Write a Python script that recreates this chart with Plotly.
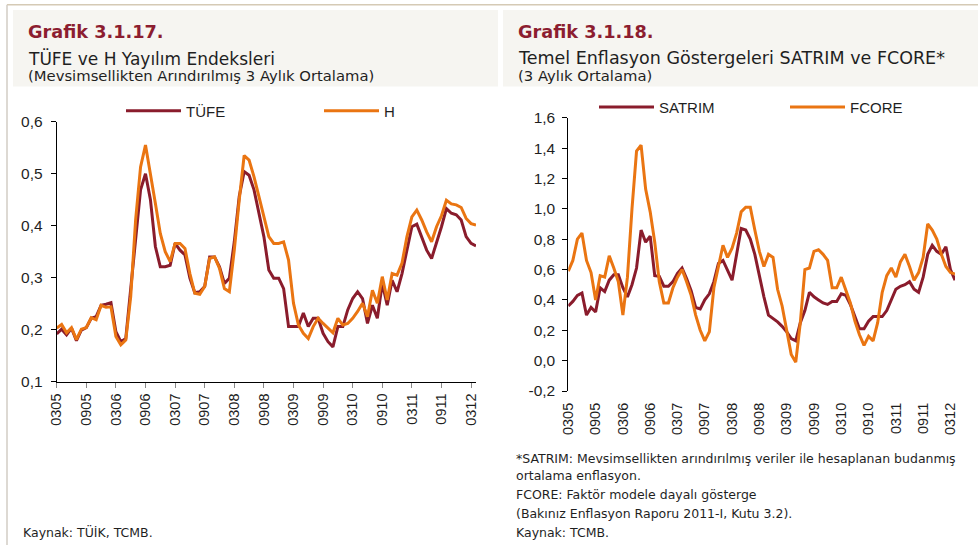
import plotly.graph_objects as go
import pandas as pd

# ---------------- data ----------------
months = pd.date_range("2005-03-01", "2012-04-01", freq="MS").strftime("%m%y").tolist()
x_tick_labels = months[::6]

tufe = [0.192, 0.201, 0.190, 0.203, 0.179, 0.199, 0.204, 0.222, 0.225, 0.247,
        0.249, 0.252, 0.196, 0.177, 0.183, 0.276, 0.379, 0.469, 0.500, 0.450,
        0.360, 0.321, 0.321, 0.324, 0.366, 0.353, 0.344, 0.299, 0.271, 0.273,
        0.283, 0.340, 0.340, 0.321, 0.289, 0.299, 0.369, 0.456, 0.504, 0.497,
        0.469, 0.427, 0.379, 0.315, 0.299, 0.299, 0.279, 0.206, 0.206, 0.206,
        0.232, 0.206, 0.222, 0.222, 0.193, 0.177, 0.167, 0.206, 0.206, 0.238,
        0.260, 0.273, 0.260, 0.212, 0.247, 0.222, 0.289, 0.247, 0.295, 0.273,
        0.308, 0.353, 0.398, 0.403, 0.379, 0.353, 0.337, 0.366, 0.398, 0.433,
        0.424, 0.421, 0.411, 0.379, 0.366, 0.361]

h_index = [0.203, 0.210, 0.194, 0.204, 0.181, 0.201, 0.204, 0.223, 0.219, 0.247,
           0.243, 0.244, 0.187, 0.171, 0.180, 0.263, 0.411, 0.513, 0.555, 0.495,
           0.443, 0.385, 0.350, 0.331, 0.366, 0.366, 0.356, 0.308, 0.270, 0.268,
           0.283, 0.337, 0.340, 0.318, 0.279, 0.273, 0.353, 0.449, 0.535, 0.526,
           0.494, 0.456, 0.417, 0.379, 0.366, 0.366, 0.369, 0.334, 0.251, 0.209,
           0.193, 0.183, 0.206, 0.222, 0.212, 0.203, 0.194, 0.222, 0.209, 0.212,
           0.222, 0.235, 0.251, 0.225, 0.276, 0.251, 0.302, 0.257, 0.308, 0.305,
           0.328, 0.379, 0.417, 0.430, 0.411, 0.388, 0.369, 0.398, 0.419, 0.449,
           0.442, 0.440, 0.435, 0.414, 0.404, 0.401]

satrim = [0.36, 0.39, 0.43, 0.445, 0.30, 0.35, 0.32, 0.48, 0.455, 0.53,
          0.565, 0.565, 0.48, 0.42, 0.50, 0.61, 0.86, 0.78, 0.82, 0.56,
          0.555, 0.49, 0.49, 0.52, 0.575, 0.61, 0.54, 0.46, 0.35, 0.34,
          0.40, 0.44, 0.52, 0.64, 0.66, 0.60, 0.53, 0.70, 0.87, 0.86,
          0.80, 0.70, 0.55, 0.42, 0.30, 0.28, 0.255, 0.226, 0.19, 0.145,
          0.13, 0.25, 0.33, 0.45, 0.42, 0.40, 0.38, 0.37, 0.39, 0.39,
          0.44, 0.43, 0.37, 0.29, 0.21, 0.21, 0.26, 0.29, 0.29, 0.29,
          0.33, 0.40, 0.47, 0.49, 0.50, 0.52, 0.47, 0.45, 0.55, 0.70,
          0.76, 0.72, 0.70, 0.75, 0.60, 0.53]

fcore = [0.59, 0.66, 0.80, 0.84, 0.66, 0.58, 0.40, 0.56, 0.55, 0.69,
         0.61, 0.52, 0.30, 0.55, 1.00, 1.38, 1.42, 1.13, 0.98, 0.78,
         0.52, 0.38, 0.38, 0.48, 0.55, 0.60, 0.52, 0.43, 0.30, 0.20,
         0.13, 0.19, 0.48, 0.62, 0.76, 0.68, 0.74, 0.84, 0.98, 1.01,
         1.01, 0.86, 0.72, 0.62, 0.70, 0.68, 0.47, 0.36, 0.20, 0.04,
         -0.01, 0.25, 0.60, 0.61, 0.72, 0.73, 0.70, 0.66, 0.48, 0.48,
         0.55, 0.47, 0.38, 0.26, 0.17, 0.10, 0.16, 0.13, 0.25, 0.45,
         0.56, 0.61, 0.55, 0.65, 0.70, 0.62, 0.53, 0.58, 0.68, 0.90,
         0.86, 0.80, 0.70, 0.62, 0.58, 0.57]

left_y_ticks = [0.1, 0.2, 0.3, 0.4, 0.5, 0.6]
left_y_labels = ["0,1", "0,2", "0,3", "0,4", "0,5", "0,6"]
right_y_ticks = [-0.2, 0.0, 0.2, 0.4, 0.6, 0.8, 1.0, 1.2, 1.4, 1.6]
right_y_labels = ["-0,2", "0,0", "0,2", "0,4", "0,6", "0,8", "1,0", "1,2", "1,4", "1,6"]

# ---------------- layout helpers ----------------
W, H = 978, 545
def fx(px):
    return px / W
def fy(py):
    return 1 - py / H

DARK = "#8A1C2C"
ORANGE = "#EA7512"
TITLE_RED = "#8C1D30"
TXT = "#1f1f1f"
TICK_FONT = dict(family="Liberation Sans, Arial, sans-serif", size=15.5, color=TXT)
XT_FONT = dict(family="Liberation Sans, Arial, sans-serif", size=14.5, color=TXT)
LEG_FONT = dict(family="Liberation Sans, Arial, sans-serif", size=15, color=TXT)
HDR_FONT = "DejaVu Sans, sans-serif"

xi = list(range(len(months)))
tick_pos = [months.index(t) for t in x_tick_labels]

fig = go.Figure()
fig.add_trace(go.Scatter(x=xi, y=tufe, name="TÜFE", mode="lines",
                         line=dict(color=DARK, width=3), xaxis="x", yaxis="y",
                         legend="legend"))
fig.add_trace(go.Scatter(x=xi, y=h_index, name="H", mode="lines",
                         line=dict(color=ORANGE, width=3), xaxis="x", yaxis="y",
                         legend="legend"))
fig.add_trace(go.Scatter(x=xi, y=satrim, name="SATRIM", mode="lines",
                         line=dict(color=DARK, width=3), xaxis="x2", yaxis="y2",
                         legend="legend2"))
fig.add_trace(go.Scatter(x=xi, y=fcore, name="FCORE", mode="lines",
                         line=dict(color=ORANGE, width=3), xaxis="x2", yaxis="y2",
                         legend="legend2"))

L_dom_x = [fx(56.7), fx(476)]
L_dom_y = [fy(381.7), fy(121.7)]
R_dom_x = [fx(568.3), fx(955)]
R_dom_y = [fy(391), fy(117.7)]
zero_pos = R_dom_y[0] + (0 - (-0.2)) / 1.8 * (R_dom_y[1] - R_dom_y[0])

common_x = dict(tickmode="array", tickvals=tick_pos, ticktext=x_tick_labels,
                tickangle=-90, tickfont=XT_FONT, showgrid=False, zeroline=False,
                range=[0, len(months) - 1], automargin=False)

fig.update_layout(
    width=W, height=H, margin=dict(l=0, r=0, t=0, b=0, autoexpand=False),
    paper_bgcolor="white", plot_bgcolor="white",
    showlegend=True,
    xaxis=dict(domain=L_dom_x, anchor="y", showline=True, linecolor="black",
               linewidth=1, ticks="outside", ticklen=5, tickcolor="#888888",
               **common_x),
    yaxis=dict(domain=L_dom_y, anchor="x", range=[0.1, 0.6], tickmode="array",
               tickvals=left_y_ticks, ticktext=left_y_labels, tickfont=TICK_FONT,
               showline=True, linecolor="black", linewidth=1, ticks="outside",
               ticklen=5, tickcolor="black", showgrid=False, zeroline=False,
               automargin=False, ticklabelstandoff=5),
    xaxis2=dict(domain=R_dom_x, anchor="y2", showline=False, ticks="outside",
                ticklen=5, tickcolor="rgba(0,0,0,0)", **common_x),
    xaxis3=dict(overlaying="x2", anchor="free", position=zero_pos,
                range=[0, len(months) - 1], tickmode="array", tickvals=tick_pos,
                showticklabels=False, showline=True, linecolor="black",
                linewidth=1, ticks="outside", ticklen=5, tickcolor="#666666",
                showgrid=False, zeroline=False, automargin=False),
    yaxis2=dict(domain=R_dom_y, anchor="x2", range=[-0.2, 1.6], tickmode="array",
                tickvals=right_y_ticks, ticktext=right_y_labels, tickfont=TICK_FONT,
                showline=True, linecolor="black", linewidth=1, ticks="outside",
                ticklen=5, tickcolor="black", showgrid=False, zeroline=False,
                automargin=False, ticklabelstandoff=4),
    legend=dict(xref="container", yref="container", x=fx(121), y=fy(111),
                xanchor="left", yanchor="middle",
                orientation="h", entrywidth=128, entrywidthmode="pixels",
                itemwidth=55, bgcolor="rgba(0,0,0,0)", font=LEG_FONT),
    legend2=dict(xref="container", yref="container", x=fx(594), y=fy(107.3),
                 xanchor="left", yanchor="middle",
                 orientation="h", entrywidth=121, entrywidthmode="pixels",
                 itemwidth=55, bgcolor="rgba(0,0,0,0)", font=LEG_FONT),
)

# ---------------- decorations ----------------
shapes = [
    dict(type="line", xref="paper", yref="paper", x0=fx(7), x1=1, y0=fy(4.7), y1=fy(4.7),
         line=dict(color="#D5CAB5", width=1.5)),
    dict(type="line", xref="paper", yref="paper", x0=fx(7), x1=fx(7), y0=0, y1=fy(4.7),
         line=dict(color="#D2CCC4", width=1.5)),
    dict(type="rect", xref="paper", yref="paper", x0=fx(13), x1=fx(498), y0=fy(86.5), y1=fy(10),
         fillcolor="#F6F5F1", line=dict(width=0), layer="below"),
    dict(type="rect", xref="paper", yref="paper", x0=fx(503), x1=1, y0=fy(86.5), y1=fy(10),
         fillcolor="#F6F5F1", line=dict(width=0), layer="below"),
]
fig.update_layout(shapes=shapes)

def note(text, px, py, size, color=TXT, bold=False, family=HDR_FONT):
    if bold:
        text = "<b>" + text + "</b>"
    fig.add_annotation(text=text, xref="paper", yref="paper", x=fx(px), y=fy(py),
                       xanchor="left", yanchor="middle", showarrow=False,
                       font=dict(family=family, size=size, color=color))

note("Grafik 3.1.17.", 26, 32, 17.7, TITLE_RED, bold=True)
note("TÜFE ve H Yayılım Endeksleri", 26, 58.5, 17)
note("(Mevsimsellikten Arındırılmış 3 Aylık Ortalama)", 26, 75.5, 14.8)
note("Grafik 3.1.18.", 516, 32, 17.7, TITLE_RED, bold=True)
note("Temel Enflasyon Göstergeleri SATRIM ve FCORE*", 516, 58.5, 17.5)
note("(3 Aylık Ortalama)", 516, 75.5, 14.8)

note("Kaynak: TÜİK, TCMB.", 21, 532, 12.5)
note("*SATRIM: Mevsimsellikten arındırılmış veriler ile hesaplanan budanmış", 514, 458, 12.5)
note("ortalama enflasyon.", 514, 475, 12.5)
note("FCORE: Faktör modele dayalı gösterge", 514, 494, 12.5)
note("(Bakınız Enflasyon Raporu 2011-I, Kutu 3.2).", 514, 513, 12.5)
note("Kaynak: TCMB.", 514, 532, 12.5)

fig.write_html(
    "out.html",
    config={"displayModeBar": False},
    post_script="document.body.style.margin='0';document.body.style.overflow='hidden';",
)
